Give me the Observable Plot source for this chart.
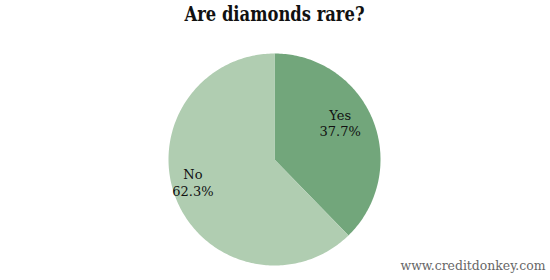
<!DOCTYPE html>
<html><head><meta charset="utf-8">
<script src="https://cdn.jsdelivr.net/npm/d3@7"></script>
<script src="https://cdn.jsdelivr.net/npm/@observablehq/plot@0.6"></script>
<style>body{margin:0;background:#fff}</style>
</head><body><div id="chart"></div>
<script>
const title = "Are diamonds rare?";
const categories = ["Yes", "No"];
const values = [37.7, 62.3];
const colors = ["#72a67b", "#b0cdb1"];
const source = "www.creditdonkey.com";

const total = d3.sum(values);
let acc = 0;
const slices = categories.map((c, i) => {
  const a0 = acc / total * 2 * Math.PI;
  acc += values[i];
  const a1 = acc / total * 2 * Math.PI;
  return {c, v: values[i], a0, a1};
});
const pts = [];
for (const s of slices) {
  pts.push({c: s.c, x: 0, y: 0});
  const n = Math.max(2, Math.ceil((s.a1 - s.a0) / (Math.PI / 180)));
  for (let k = 0; k <= n; k++) {
    const a = s.a0 + (s.a1 - s.a0) * k / n;
    pts.push({c: s.c, x: Math.sin(a), y: Math.cos(a)});
  }
}
const labels = slices.map(s => {
  const m = (s.a0 + s.a1) / 2, r = 0.75;
  return {text: `${s.c}\n${s.v.toFixed(1)}%`, x: r * Math.sin(m), y: r * Math.cos(m)};
});

const chart = Plot.plot({
  width: 550, height: 280,
  marginLeft: 168, marginRight: 170, marginTop: 53, marginBottom: 15,
  x: {domain: [-1, 1], axis: null},
  y: {domain: [-1, 1], axis: null},
  color: {domain: categories, range: colors},
  style: {background: "#fff"},
  marks: [
    Plot.line(pts, {x: "x", y: "y", z: "c", fill: "c", stroke: "none", curve: "linear-closed"}),
    Plot.text(labels, {x: "x", y: "y", text: "text", dx: -8, dy: -7, fontSize: 13,
      fontFamily: "DejaVu Serif", fill: "#111", lineHeight: 1.3}),
    Plot.text([title], {frameAnchor: "top", dy: -39, text: d => d, fontSize: 20,
      fontWeight: "bold", fontFamily: "DejaVu Serif Condensed", fill: "#111",
      lineAnchor: "middle", className: "ttl"}),
    Plot.text([source], {frameAnchor: "bottom-right", dx: 165, dy: 1, text: d => d,
      textAnchor: "end", lineAnchor: "middle", fontSize: 12,
      fontFamily: "DejaVu Serif Condensed", fill: "#666", className: "src"})
  ]
});
document.getElementById("chart").appendChild(chart);
const t = chart.querySelector(".ttl text");
if (t) { t.setAttribute("textLength", 180); t.setAttribute("lengthAdjust", "spacingAndGlyphs"); }
const s = chart.querySelector(".src text");
if (s) { s.setAttribute("textLength", 145); s.setAttribute("lengthAdjust", "spacingAndGlyphs"); }
</script>
</body></html>
